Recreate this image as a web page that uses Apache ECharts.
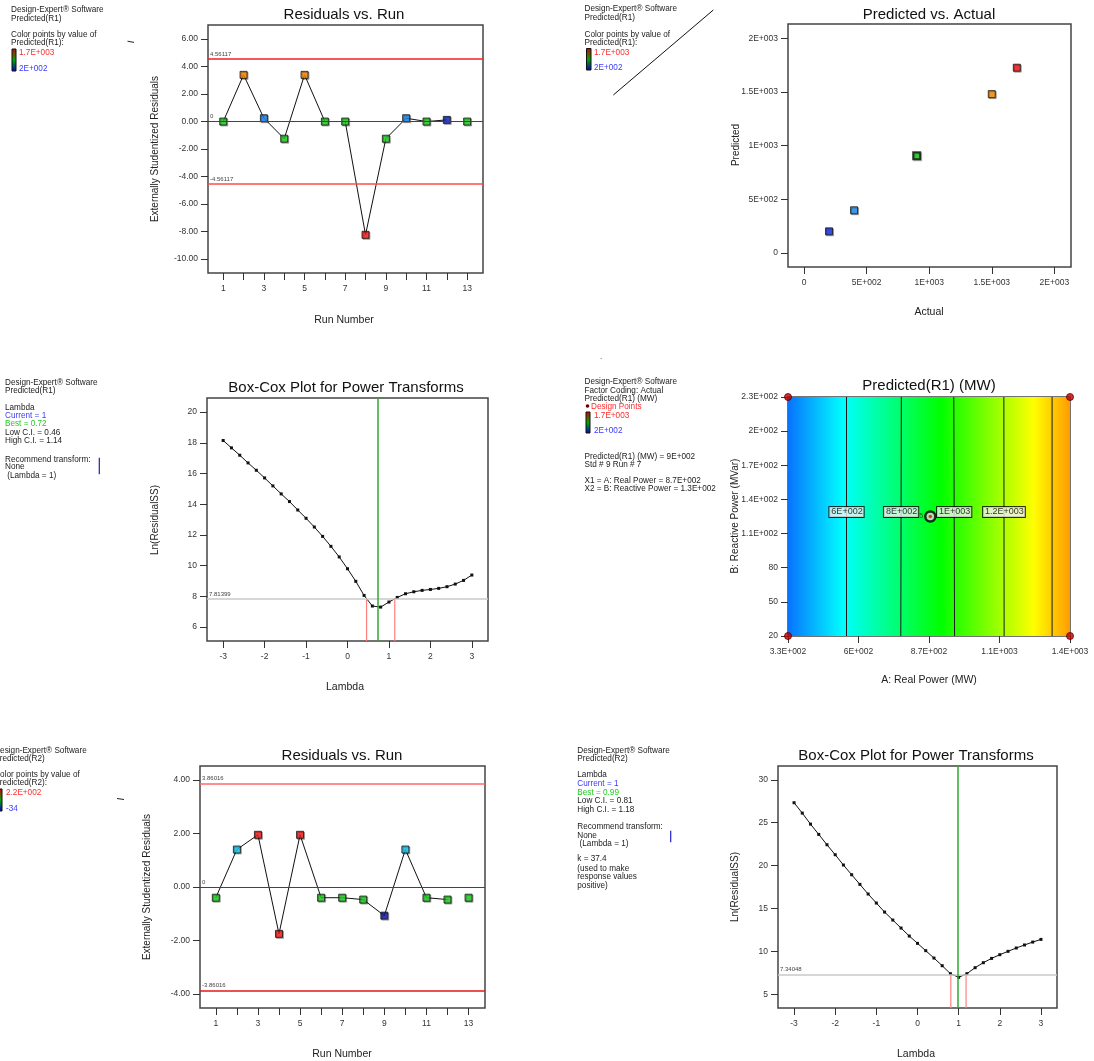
<!DOCTYPE html>
<html><head><meta charset="utf-8">
<script src="https://cdn.jsdelivr.net/npm/echarts@6/dist/echarts.min.js"></script>
<style>html,body{margin:0;padding:0;background:#fff}#c{width:1094px;height:1061px}</style>
</head><body><div id="c"></div><script>
// ---------- data ----------
const runNumbers = [1,2,3,4,5,6,7,8,9,10,11,12,13];
const connectedRuns = 12;
const residR1 = [0.00, 3.40, 0.24, -1.25, 3.40, 0.00, 0.00, -8.25, -1.25, 0.24, 0.00, 0.12, 0.00];
const colorR1 = ['#1ed31e','#ff8a00','#1c86ee','#1ed31e','#ff8a00','#1ed31e','#1ed31e','#ff1a1a','#1ed31e','#1c86ee','#1ed31e','#1428c8','#1ed31e'];
const limitR1 = 4.56117;
const residR2 = [-0.40, 1.40, 1.95, -1.75, 1.95, -0.40, -0.40, -0.47, -1.07, 1.40, -0.40, -0.47, -0.40];
const colorR2 = ['#1ed31e','#18c8f0','#ff1a1a','#ff1a1a','#ff1a1a','#1ed31e','#1ed31e','#1ed31e','#1414a8','#18c8f0','#1ed31e','#1ed31e','#1ed31e'];
const limitR2 = 3.86016;

const actualR1 = [200, 400, 900, 1500, 1700];
const predictedR1 = [202, 398, 907, 1480, 1726];
const colorPA = ['#1030f0','#1e8ef0','#18d018','#ff8c00','#ff1414'];

const lambdaGrid = [-3,-2.8,-2.6,-2.4,-2.2,-2,-1.8,-1.6,-1.4,-1.2,-1,-0.8,-0.6,-0.4,-0.2,0,0.2,0.4,0.6,0.8,1,1.2,1.4,1.6,1.8,2,2.2,2.4,2.6,2.8,3];
const lnSSR1 = [18.15,17.67,17.19,16.69,16.21,15.71,15.19,14.67,14.17,13.62,13.08,12.51,11.90,11.25,10.56,9.79,8.97,8.05,7.36,7.29,7.62,7.92,8.16,8.29,8.38,8.44,8.51,8.62,8.79,9.03,9.38];
const bestR1 = 0.72, lowR1 = 0.46, highR1 = 1.14, ciR1 = 7.81399;
const lnSSR2 = [27.33,26.12,24.84,23.64,22.44,21.28,20.08,18.95,17.83,16.71,15.66,14.61,13.68,12.75,11.82,10.97,10.12,9.26,8.37,7.44,7.02,7.44,8.14,8.72,9.22,9.65,10.04,10.43,10.78,11.12,11.43];
const bestR2 = 0.99, lowR2 = 0.81, highR2 = 1.18, ciR2 = 7.34048;

const realPowerRange = [330, 1400];
const reactivePowerRange = [20, 230];
const contourLabels = ['6E+002','8E+002','1E+003','1.2E+003',''];
const contourTopA = [552, 760, 959, 1149, 1332];
const contourBottomA = [552, 758, 962, 1150, 1332];
const contourLabelB = 129;
const gradientA = [330, 540, 910, 1262, 1400];
const gradientColors = ['#0873ff','#00ffff','#00ff00','#ffff00','#ff9c00'];
const designPoint = [870, 125];
const designReplicates = '5';
const cornerA = [330, 330, 1400, 1400];
const cornerB = [20, 230, 20, 230];

// ---------- ticks ----------
const residTicksR1 = [-10,-8,-6,-4,-2,0,2,4,6];
const residLabelsR1 = ['-10.00','-8.00','-6.00','-4.00','-2.00','0.00','2.00','4.00','6.00'];
const residTicksR2 = [-4,-2,0,2,4];
const residLabelsR2 = ['-4.00','-2.00','0.00','2.00','4.00'];
const runLabelVals = [1,3,5,7,9,11,13];
const runLabels = ['1','3','5','7','9','11','13'];
const paTicks = [0,500,1000,1500,2000];
const paLabels = ['0','5E+002','1E+003','1.5E+003','2E+003'];
const lambdaTicks = [-3,-2,-1,0,1,2,3];
const lambdaLabels = ['-3','-2','-1','0','1','2','3'];
const lnTicksR1 = [6,8,10,12,14,16,18,20];
const lnLabelsR1 = ['6','8','10','12','14','16','18','20'];
const lnTicksR2 = [5,10,15,20,25,30];
const lnLabelsR2 = ['5','10','15','20','25','30'];
const aTicks = [330,597.5,865,1132.5,1400];
const aLabels = ['3.3E+002','6E+002','8.7E+002','1.1E+003','1.4E+003'];
const bTicks = [20,50,80,110,140,170,200,230];
const bLabels = ['20','50','80','1.1E+002','1.4E+002','1.7E+002','2E+002','2.3E+002'];

// ---------- layout ----------
const FONT = "'Liberation Sans', Arial, sans-serif";
const grids = [
  {left:208, top:25, width:275, height:248},
  {left:788, top:24, width:283, height:243},
  {left:207, top:398, width:281, height:243},
  {left:788, top:397, width:282, height:239},
  {left:200, top:766, width:285, height:242},
  {left:778, top:766, width:279, height:242}
];
const xRanges = [[0.25,13.78],[-128,2133],[-3.39,3.39],realPowerRange,[0.25,13.78],[-3.39,3.39]];
const yRanges = [[-11.03,7.03],[-130,2133],[5.08,20.92],reactivePowerRange,[-4.52,4.52],[3.45,31.6]];

function axis(gi, range, tickVals, labelVals, labels, isX) {
  return {
    gridIndex: gi, type: 'value', min: range[0], max: range[1],
    axisLine: {show:false, onZero:false}, splitLine: {show:false},
    axisTick: {show:true, length:7, customValues: tickVals, lineStyle:{color:'#333', width:1}},
    axisLabel: {customValues: labelVals, fontSize: 8.5, fontFamily: FONT, color:'#333', margin: isX ? 11 : 10,
      formatter: v => { const i = labelVals.indexOf(v); return i >= 0 ? labels[i] : ''; }}
  };
}
const xAxes = [
  axis(0, xRanges[0], runNumbers, runLabelVals, runLabels, true),
  axis(1, xRanges[1], paTicks, paTicks, paLabels, true),
  axis(2, xRanges[2], lambdaTicks, lambdaTicks, lambdaLabels, true),
  axis(3, xRanges[3], aTicks, aTicks, aLabels, true),
  axis(4, xRanges[4], runNumbers, runLabelVals, runLabels, true),
  axis(5, xRanges[5], lambdaTicks, lambdaTicks, lambdaLabels, true)
];
const yAxes = [
  axis(0, yRanges[0], residTicksR1, residTicksR1, residLabelsR1, false),
  axis(1, yRanges[1], paTicks, paTicks, paLabels, false),
  axis(2, yRanges[2], lnTicksR1, lnTicksR1, lnLabelsR1, false),
  axis(3, yRanges[3], bTicks, bTicks, bLabels, false),
  axis(4, yRanges[4], residTicksR2, residTicksR2, residLabelsR2, false),
  axis(5, yRanges[5], lnTicksR2, lnTicksR2, lnLabelsR2, false)
];

const markerStyle = {borderColor:'#111', borderWidth:1, shadowColor:'rgba(0,0,0,0.35)', shadowOffsetX:1, shadowOffsetY:1, shadowBlur:0};
const mlLabel = {show:true, position:'insideStartTop', fontSize:6, color:'#444', fontFamily:FONT, distance:2};

function residualSeries(gi, resid, colors, limit, upColor, lowColor) {
  return [
    {type:'line', xAxisIndex:gi, yAxisIndex:gi, z:3, symbol:'none', animation:false,
      lineStyle:{color:'#111', width:1},
      data: runNumbers.slice(0, connectedRuns).map((r,i)=>[r, resid[i]]),
      markLine:{silent:true, symbol:['none','none'], animation:false, label:mlLabel,
        data:[
          {yAxis: limit, lineStyle:{color:upColor, width:1.5, type:'solid'}, label:{formatter:String(limit)}},
          {yAxis: -limit, lineStyle:{color:lowColor, width:1.5, type:'solid'}, label:{formatter:String(-limit)}},
          {yAxis: 0, lineStyle:{color:'#444', width:1.2, type:'solid'}, label:{formatter:'0'}}
        ]}},
    {type:'scatter', xAxisIndex:gi, yAxisIndex:gi, z:4, symbol:'rect', symbolSize:7, animation:false,
      itemStyle: markerStyle,
      data: runNumbers.map((r,i)=>({value:[r, resid[i]], itemStyle:{color:colors[i]}}))}
  ];
}
function boxcoxSeries(gi, lnSS, best, low, high, ci) {
  const yMin = yRanges[gi][0];
  return [
    {type:'line', xAxisIndex:gi, yAxisIndex:gi, z:2, symbol:'none', animation:false,
      lineStyle:{color:'#ff8080', width:1.2}, data:[[low, yMin],[low, ci]]},
    {type:'line', xAxisIndex:gi, yAxisIndex:gi, z:2, symbol:'none', animation:false,
      lineStyle:{color:'#ff8080', width:1.2}, data:[[high, yMin],[high, ci]]},
    {type:'line', xAxisIndex:gi, yAxisIndex:gi, z:3, symbol:'rect', symbolSize:3, animation:false,
      itemStyle:{color:'#111'}, lineStyle:{color:'#111', width:1},
      data: lambdaGrid.map((l,i)=>[l, lnSS[i]]),
      markLine:{silent:true, symbol:['none','none'], animation:false, label:mlLabel,
        data:[
          {yAxis: ci, lineStyle:{color:'#c8c8c8', width:1.5, type:'solid'}, label:{formatter:String(ci)}},
          {xAxis: best, lineStyle:{color:'#2eaa2e', width:1.5, type:'solid'}, label:{show:false}}
        ]}}
  ];
}

const series = [];
series.push(...residualSeries(0, residR1, colorR1, limitR1, '#ee2222', '#ff4a4a'));
series.push({type:'scatter', xAxisIndex:1, yAxisIndex:1, z:4, symbol:'rect', symbolSize:7, animation:false,
  itemStyle: markerStyle,
  data: actualR1.map((a,i)=>({value:[a, predictedR1[i]], itemStyle:{color:colorPA[i], borderWidth: i===2 ? 2 : 1}}))});
series.push(...boxcoxSeries(2, lnSSR1, bestR1, lowR1, highR1, ciR1));
// contour plot
series.push({type:'custom', xAxisIndex:3, yAxisIndex:3, z:1, animation:false, silent:true,
  data:[[realPowerRange[0], reactivePowerRange[0], realPowerRange[1], reactivePowerRange[1]]],
  renderItem: function(params, api) {
    const p0 = api.coord([api.value(0), api.value(1)]);
    const p1 = api.coord([api.value(2), api.value(3)]);
    const w = p1[0] - p0[0];
    const stops = gradientA.map((a,i)=>({offset: Math.min(1, Math.max(0, (api.coord([a, api.value(1)])[0]-p0[0])/w)), color: gradientColors[i]}));
    return {type:'rect', shape:{x:p0[0], y:p1[1], width:w, height:p0[1]-p1[1]},
      style:{fill: new echarts.graphic.LinearGradient(0,0,1,0,stops)}};
  }});
contourTopA.forEach((a,i)=>{
  series.push({type:'line', xAxisIndex:3, yAxisIndex:3, z:2, symbol:'none', animation:false,
    lineStyle:{color:'#1a1a1a', width:1},
    data:[[a, reactivePowerRange[1]],[contourBottomA[i], reactivePowerRange[0]]]});
});
series.push({type:'scatter', xAxisIndex:3, yAxisIndex:3, z:5, symbolSize:1, animation:false,
  itemStyle:{color:'rgba(0,0,0,0)'},
  data: contourLabels.map((s,i)=>({value:[(contourTopA[i]+contourBottomA[i])/2, contourLabelB], name:s})).filter(d=>d.name),
  label:{show:true, position:'inside', formatter: p => p.name, fontSize:9, fontFamily:FONT, color:'#000',
    backgroundColor:'#f2f2f2', borderColor:'#000', borderWidth:1, padding:[1,1,0,2]}});
series.push({type:'scatter', xAxisIndex:3, yAxisIndex:3, z:6, symbol:'circle', symbolSize:10, animation:false,
  itemStyle:{color:'#ddd', borderColor:'#000', borderWidth:2.5},
  data:[{value:designPoint}],
  label:{show:true, position:'left', distance:1, formatter:designReplicates, fontSize:7, color:'#333', fontFamily:FONT}});
series.push({type:'scatter', xAxisIndex:3, yAxisIndex:3, z:7, symbol:'circle', symbolSize:3.5, animation:false,
  itemStyle:{color:'#e01010'}, data:[{value:designPoint}]});
series.push({type:'scatter', xAxisIndex:3, yAxisIndex:3, z:7, symbol:'circle', symbolSize:7, clip:false, animation:false,
  itemStyle:{color:'#c00000', borderColor:'#600000', borderWidth:1},
  data: cornerA.map((a,i)=>[a, cornerB[i]])});
series.push(...residualSeries(4, residR2, colorR2, limitR2, '#ff6a6a', '#e01818'));
series.push(...boxcoxSeries(5, lnSSR2, bestR2, lowR2, highR2, ciR2));

// ---------- graphic texts ----------
function txt(x, y, s, size, color, align, rot) {
  return {type:'text', x:x, y:y, rotation: rot||0, silent:true, z:100,
    style:{text:s, fill:color||'#222', fontSize:size, fontFamily:FONT, textAlign:align||'left', textVerticalAlign:'middle'}};
}
function block(x, lines) { return lines.map(l => txt(x, l[0], l[1], 8.2, l[2] || '#222')); }
function colorBar(x, y, w, h) {
  return {type:'rect', silent:true, z:100, shape:{x:x, y:y, width:w, height:h},
    style:{fill: new echarts.graphic.LinearGradient(0,0,0,1,[{offset:0,color:'#d00000'},{offset:0.5,color:'#00a800'},{offset:1,color:'#0000c8'}]), stroke:'#111', lineWidth:1}};
}
function seg(x1,y1,x2,y2,color,w) {
  return {type:'line', silent:true, z:100, shape:{x1:x1,y1:y1,x2:x2,y2:y2}, style:{stroke:color, lineWidth:w||1}};
}
const RED = '#ff2a2a', BLUE = '#3a3aff', GREEN = '#22cc22';
const ROT = Math.PI/2;
const graphics = [].concat(
  // titles
  txt(344, 15, 'Residuals vs. Run', 15, '#111', 'center'),
  txt(929, 15, 'Predicted vs. Actual', 15, '#111', 'center'),
  txt(346, 388, 'Box-Cox Plot for Power Transforms', 15, '#111', 'center'),
  txt(929, 386, 'Predicted(R1) (MW)', 15, '#111', 'center'),
  txt(342, 756, 'Residuals vs. Run', 15, '#111', 'center'),
  txt(916, 756, 'Box-Cox Plot for Power Transforms', 15, '#111', 'center'),
  // axis names
  txt(155, 149, 'Externally Studentized Residuals', 10, '#222', 'center', ROT),
  txt(344, 320, 'Run Number', 10.5, '#222', 'center'),
  txt(736, 145, 'Predicted', 10, '#222', 'center', ROT),
  txt(929, 312, 'Actual', 10.5, '#222', 'center'),
  txt(155, 520, 'Ln(ResidualSS)', 10, '#222', 'center', ROT),
  txt(345, 687, 'Lambda', 10.5, '#222', 'center'),
  txt(735, 516, 'B: Reactive Power (MVar)', 10, '#222', 'center', ROT),
  txt(929, 680, 'A: Real Power (MW)', 10.5, '#222', 'center'),
  txt(147, 887, 'Externally Studentized Residuals', 10, '#222', 'center', ROT),
  txt(342, 1054, 'Run Number', 10.5, '#222', 'center'),
  txt(735, 887, 'Ln(ResidualSS)', 10, '#222', 'center', ROT),
  txt(916, 1054, 'Lambda', 10.5, '#222', 'center'),
  // side notes: panel 1
  block(11, [[10,'Design-Expert® Software'],[19,'Predicted(R1)'],[34.7,'Color points by value of'],[42.7,'Predicted(R1):']]),
  colorBar(12, 49, 4, 22),
  txt(19, 52.3, '1.7E+003', 8.2, RED), txt(19, 69, '2E+002', 8.2, BLUE),
  seg(127.5, 41.2, 134, 42.4, '#222', 1),
  // panel 2
  block(584.5, [[8.3,'Design-Expert® Software'],[17.3,'Predicted(R1)'],[34.3,'Color points by value of'],[42.7,'Predicted(R1):']]),
  colorBar(586.5, 48.5, 4.5, 21.5),
  txt(594, 52.3, '1.7E+003', 8.2, RED), txt(594, 67.7, '2E+002', 8.2, BLUE),
  seg(613.3, 95, 713.3, 10, '#111', 1),
  // panel 3
  block(5, [[382.3,'Design-Expert® Software'],[390.7,'Predicted(R1)'],[407.3,'Lambda'],[415.7,'Current = 1',BLUE],[424,'Best = 0.72',GREEN],
    [432.3,'Low C.I. = 0.46'],[441,'High C.I. = 1.14'],[459.3,'Recommend transform:'],[466.7,'None'],[475.3,' (Lambda = 1)']]),
  seg(99.3, 457.7, 99.3, 474.3, '#2020b0', 1.2),
  // panel 4
  txt(600, 357, '.', 8, '#222'),
  block(584.5, [[381.7,'Design-Expert® Software'],[390.7,'Factor Coding: Actual'],[399,'Predicted(R1) (MW)'],
    [456.7,'Predicted(R1) (MW) = 9E+002'],[464.3,'Std # 9 Run # 7'],[481,'X1 = A: Real Power = 8.7E+002'],[488.7,'X2 = B: Reactive Power = 1.3E+002']]),
  {type:'circle', silent:true, z:100, shape:{cx:587.5, cy:406, r:1.8}, style:{fill:'#600000'}},
  txt(591, 406.7, 'Design Points', 8.2, RED),
  colorBar(586, 412, 4, 21),
  txt(594, 415.3, '1.7E+003', 8.2, RED), txt(594, 431, '2E+002', 8.2, BLUE),
  // panel 5
  block(-5.8, [[750.7,'Design-Expert® Software'],[759,'Predicted(R2)'],[774.7,'Color points by value of'],[783,'Predicted(R2):']]),
  colorBar(-1, 789, 3, 22),
  txt(6, 792.3, '2.2E+002', 8.2, RED), txt(6, 809, '-34', 8.2, BLUE),
  seg(117, 798.5, 124, 799.5, '#222', 1),
  // panel 6
  block(577.3, [[750.7,'Design-Expert® Software'],[759,'Predicted(R2)'],[775,'Lambda'],[783.7,'Current = 1',BLUE],[792.3,'Best = 0.99',GREEN],
    [801,'Low C.I. = 0.81'],[809.3,'High C.I. = 1.18'],[827,'Recommend transform:'],[835.3,'None'],[843.7,' (Lambda = 1)'],
    [859,'k = 37.4'],[868.3,'(used to make'],[877,'response values'],[885.7,'positive)']]),
  seg(670.7, 830.7, 670.7, 842.3, '#2020d0', 1.2)
);

const chart = echarts.init(document.getElementById('c'), null, {renderer:'canvas'});
chart.setOption({
  animation: false,
  backgroundColor: '#fff',
  grid: grids.map(g => Object.assign({show:true, borderColor:'#444', borderWidth:1.5, backgroundColor:'transparent'}, g)),
  xAxis: xAxes,
  yAxis: yAxes,
  series: series,
  graphic: {elements: graphics}
});
</script></body></html>
